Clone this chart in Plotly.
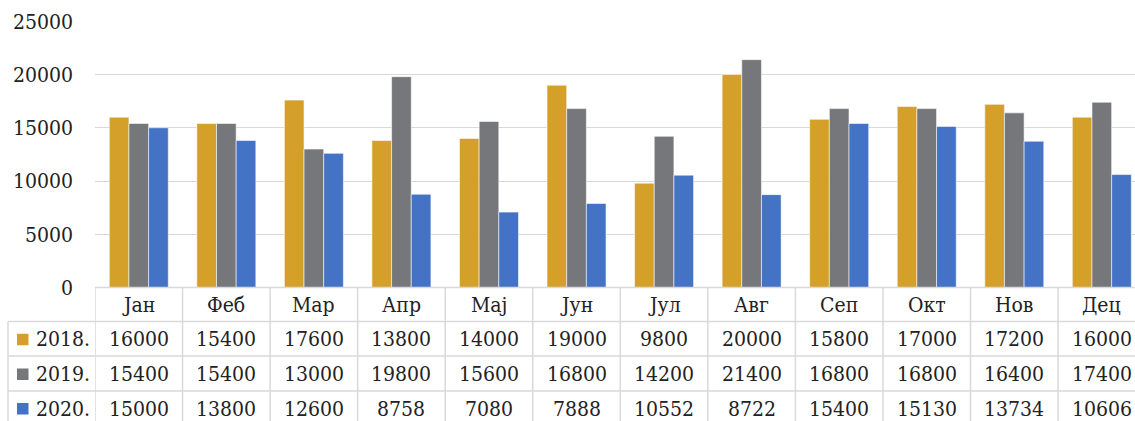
import plotly.graph_objects as go

months = ["Јан", "Феб", "Мар", "Апр", "Мај", "Јун", "Јул", "Авг", "Сеп", "Окт", "Нов", "Дец"]
series_names = ["2018.", "2019.", "2020."]
v2018 = [16000, 15400, 17600, 13800, 14000, 19000, 9800, 20000, 15800, 17000, 17200, 16000]
v2019 = [15400, 15400, 13000, 19800, 15600, 16800, 14200, 21400, 16800, 16800, 16400, 17400]
v2020 = [15000, 13800, 12600, 8758, 7080, 7888, 10552, 8722, 15400, 15130, 13734, 10606]
colors = ["#D4A02A", "#76777B", "#4472C4"]
y_ticks = [0, 5000, 10000, 15000, 20000, 25000]

W, H = 1135, 421
FONT = "DejaVu Serif Condensed, DejaVu Serif"
FS = 21
TXT = "#222222"
GRID = "#D9D9D9"

def py(px):  # pixel y -> paper
    return (H - px) / H

def pxx(px):
    return px / W

x_idx = list(range(len(months)))
fig = go.Figure()
for name, vals, col in zip(series_names, [v2018, v2019, v2020], colors):
    fig.add_trace(go.Bar(x=x_idx, y=vals, name=name,
                         marker=dict(color=col, line=dict(color="rgba(255,255,255,0.7)", width=0.8))))

plot_left = 95
col_w = 87.55
rng_right = (W - plot_left) / col_w - 0.5

fig.update_layout(
    width=W, height=H,
    margin=dict(l=0, r=0, t=0, b=0, autoexpand=False),
    paper_bgcolor="white", plot_bgcolor="white",
    barmode="group", bargap=0.326, bargroupgap=0,
    showlegend=False,
    font=dict(family=FONT, size=FS, color=TXT),
    xaxis=dict(domain=[pxx(plot_left), 1], range=[-0.5, rng_right], showticklabels=False,
               showgrid=False, zeroline=False, showline=False, ticks="", automargin=False),
    yaxis=dict(domain=[py(287.5), py(21.3)], range=[0, 25000], tickvals=y_ticks,
               ticktext=[str(v) for v in y_ticks], showgrid=True, gridcolor=GRID, gridwidth=1.3,
               zeroline=False, showline=False, ticks="", ticklabelstandoff=21, automargin=False,
               tickfont=dict(family=FONT, size=FS, color=TXT)),
)

shapes = []
annotations = []
row_lines = [287.5, 321.5, 356, 391]
row_bottom = 440
# horizontal lines
shapes.append(dict(type="line", xref="paper", yref="paper", x0=pxx(plot_left), x1=1,
                   y0=py(row_lines[0]), y1=py(row_lines[0]), line=dict(color=GRID, width=1.5)))
for yl in row_lines[1:]:
    shapes.append(dict(type="line", xref="paper", yref="paper", x0=pxx(8), x1=1,
                       y0=py(yl), y1=py(yl), line=dict(color=GRID, width=1.5)))
# vertical lines
shapes.append(dict(type="line", xref="paper", yref="paper", x0=pxx(8), x1=pxx(8),
                   y0=py(row_lines[1]), y1=py(row_bottom), line=dict(color=GRID, width=1.5)))
for k in range(len(months) + 1):
    shapes.append(dict(type="line", xref="x", yref="paper", x0=k - 0.5, x1=k - 0.5,
                       y0=py(row_lines[0]), y1=py(row_bottom), line=dict(color=GRID, width=1.5)))

header_c = (row_lines[0] + row_lines[1]) / 2 + 0.5
row_c = [(row_lines[1] + row_lines[2]) / 2 + 0.5, (row_lines[2] + row_lines[3]) / 2 + 0.5,
         row_lines[3] + 17.5]
for i, m in enumerate(months):
    annotations.append(dict(x=i, y=py(header_c), xref="x", yref="paper", text=m, showarrow=False,
                            xanchor="center", yanchor="middle", font=dict(family=FONT, size=FS, color=TXT)))
for r, (name, vals, col) in enumerate(zip(series_names, [v2018, v2019, v2020], colors)):
    yc = row_c[r]
    for i, v in enumerate(vals):
        annotations.append(dict(x=i, y=py(yc), xref="x", yref="paper", text=str(v), showarrow=False,
                                xanchor="center", yanchor="middle", font=dict(family=FONT, size=FS, color=TXT)))
    shapes.append(dict(type="rect", xref="paper", yref="paper", x0=pxx(17), x1=pxx(28.5),
                       y0=py(yc + 6), y1=py(yc - 5.5), fillcolor=col, line=dict(width=0)))
    annotations.append(dict(x=pxx(34), y=py(yc), xref="paper", yref="paper", text=name, showarrow=False,
                            xanchor="left", yanchor="middle", font=dict(family=FONT, size=FS, color=TXT)))

fig.update_layout(shapes=shapes, annotations=annotations)
fig.write_html("out.html")
